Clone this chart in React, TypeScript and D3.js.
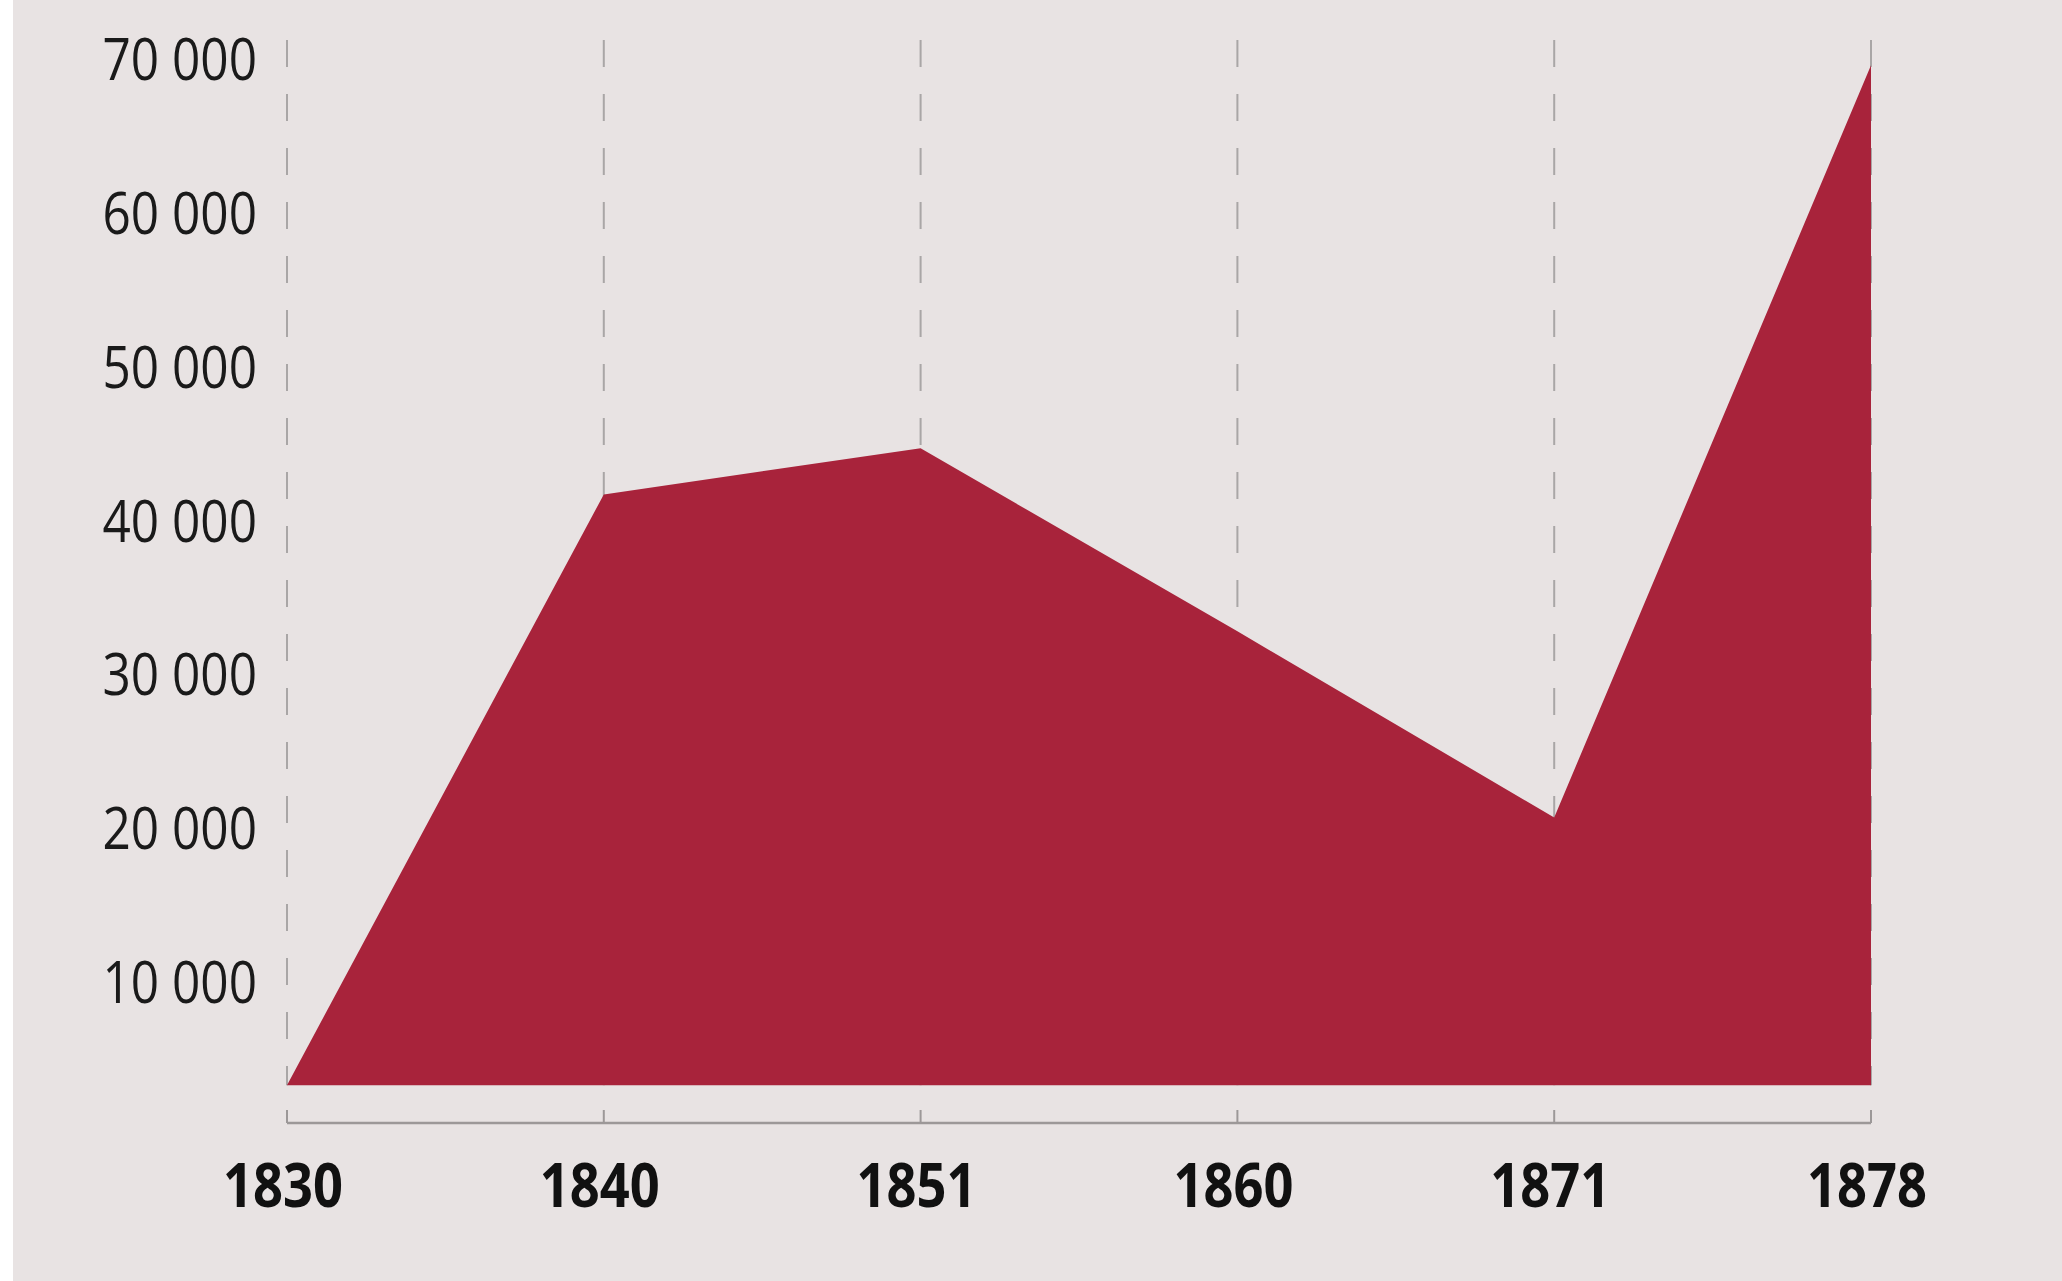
import * as d3 from 'd3'

// data
const years = ['1830', '1840', '1851', '1860', '1871', '1878']
const values = [3300, 41700, 44700, 32800, 20700, 69600]
const yTicks = [10000, 20000, 30000, 40000, 50000, 60000, 70000]

const W = 2062
const H = 1281
const font = "'Open Sans', 'Noto Sans', sans-serif"

export default function App() {
  const x = d3.scalePoint<string>().domain(years).range([287, 1871])
  const y = d3.scaleLinear().domain([0, 70000]).range([1136, 59])

  const rows = years.map((yr, i) => ({ yr, v: values[i] }))
  const base = y(d3.min(values)!)

  const area = d3.area<{ yr: string; v: number }>()
    .x(d => x(d.yr)!)
    .y0(base)
    .y1(d => y(d.v))

  const fmt = (v: number) => d3.format(',')(v).replace(',', ' ')

  return (
    <svg width={W} height={H} style={{ position: 'absolute', left: 0, top: 0 }}>
      <rect x={0} y={0} width={W} height={H} fill="#ffffff" />
      <rect x={13} y={0} width={W - 13} height={H} fill="#e8e3e3" />

      {/* dashed vertical grid, behind the area */}
      {years.map(yr => (
        <line key={'g' + yr} x1={x(yr)} x2={x(yr)} y1={40} y2={base}
          stroke="#a9a6a6" strokeWidth={2} strokeDasharray="27 27" />
      ))}

      <path d={area(rows)!} fill="#a8233b" />

      {/* x axis */}
      <line x1={x(years[0])} x2={x(years[years.length - 1])} y1={1123} y2={1123}
        stroke="#9c9898" strokeWidth={2.5} />
      {years.map(yr => (
        <g key={'t' + yr}>
          <line x1={x(yr)} x2={x(yr)} y1={1123} y2={1110} stroke="#9c9898" strokeWidth={2} />
          <g transform={`translate(${x(yr)! - 4},1207) scale(0.86,1)`}>
            <text textAnchor="middle" fontFamily={font} fontWeight="bold"
              fontSize={61} fill="#111">{yr}</text>
          </g>
        </g>
      ))}

      {/* y labels */}
      {yTicks.map(v => (
        <g key={'y' + v} transform={`translate(257,${y(v) + 21}) scale(0.84,1)`}>
          <text textAnchor="end" fontFamily={font} fontSize={59} fill="#1a1a1a">{fmt(v)}</text>
        </g>
      ))}
    </svg>
  )
}
